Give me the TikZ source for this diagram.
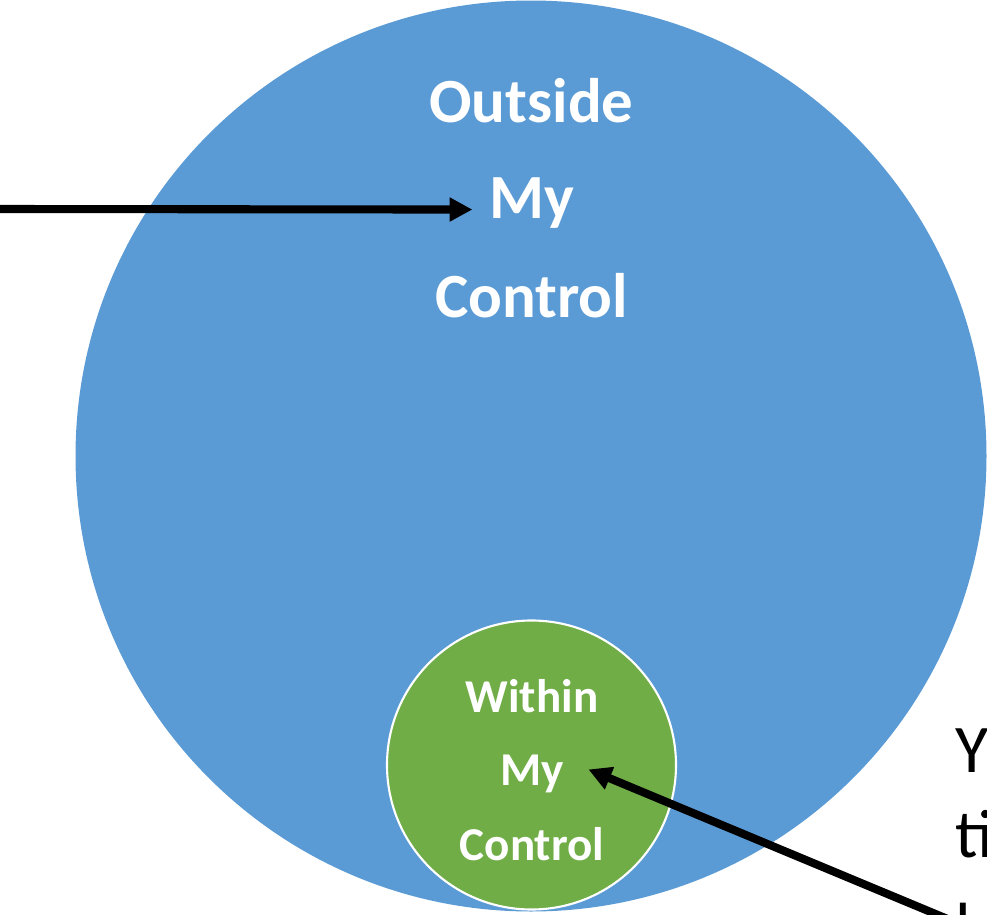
\documentclass[tikz,border=0pt]{standalone}
\usepackage{fontspec}
\setmainfont{Carlito}
\usetikzlibrary{arrows.meta,positioning}

\definecolor{outerblue}{HTML}{5B9BD5}
\definecolor{innergreen}{HTML}{70AD47}

\tikzset{
  bigword/.style={text=white, font=\bfseries\fontsize{17.9}{21}\selectfont, inner sep=0pt, anchor=base},
  smallword/.style={text=white, font=\bfseries\fontsize{13.4}{16}\selectfont, inner sep=0pt, anchor=base},
  sideword/.style={font=\fontsize{19.4}{23}\selectfont, inner sep=0pt, anchor=base west},
  pointer/.style={line width=2.3pt, -{Triangle[length=6.5pt,width=6.5pt]}},
}

\begin{document}
\begin{tikzpicture}
\clip (0,0) rectangle (9.87,-9.15);

% the two circles
\fill[outerblue] (5.31,-4.56) circle (4.555);
\filldraw[fill=innergreen, draw=white, line width=0.6pt] (5.315,-7.65) circle (1.445);

% outer label
\node[bigword] (outside) at (5.315,-1.23) {Outside};
\node[bigword] (omy) at (5.315,-2.18) {My};
\node[bigword] (ocontrol) at (5.315,-3.17) {Control};

% inner label
\node[smallword] (within) at (5.32,-7.12) {Within};
\node[smallword] (imy) at (5.32,-7.85) {My};
\node[smallword] (icontrol) at (5.32,-8.60) {Control};

% text running off the right edge
\node[sideword] (side1) at (9.55,-7.72) {Y};
\node[sideword] (side2) at (9.55,-8.57) {ti};
\node[sideword] (side3) at (9.55,-9.50) {l};

% pointers
\coordinate (lefttail) at (0,-2.09);
\coordinate (righttail) at (9.62,-9.25);
\draw[pointer] (lefttail) -- ([xshift=-0.16cm,yshift=-0.07cm]omy.west);
\draw[pointer] (righttail) -- ([xshift=0.24cm,yshift=0.04cm]imy.east);
\end{tikzpicture}
\end{document}
